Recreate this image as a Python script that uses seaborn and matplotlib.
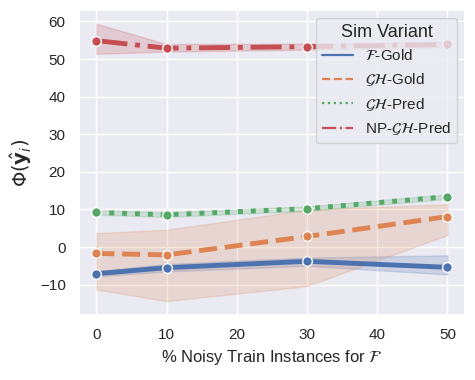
import pandas as pd
import matplotlib.pyplot as plt
from matplotlib.lines import Line2D
import seaborn as sns

# --- DATA ---
NOISE_PCT = [0, 10, 30, 50]
VARIANTS = [r"$\mathcal{F}$-Gold", r"$\mathcal{GH}$-Gold", r"$\mathcal{GH}$-Pred", r"NP-$\mathcal{GH}$-Pred"]

F_GOLD = [-7.1, -5.5, -3.8, -5.4]
F_GOLD_LO = [-7.8, -6.5, -5.0, -7.3]
F_GOLD_HI = [-6.4, -4.5, -2.8, -2.2]

GH_GOLD = [-1.7, -2.1, 2.8, 8.1]
GH_GOLD_LO = [-11.3, -14.4, -10.4, 3.2]
GH_GOLD_HI = [3.7, 4.6, 9.9, 11.4]

GH_PRED = [9.2, 8.6, 10.2, 13.4]
GH_PRED_LO = [8.6, 8.0, 9.6, 12.8]
GH_PRED_HI = [9.8, 9.2, 10.8, 14.0]

NP_GH_PRED = [54.9, 52.9, 53.3, 53.9]
NP_GH_PRED_LO = [51.4, 52.0, 52.5, 53.2]
NP_GH_PRED_HI = [59.4, 54.0, 54.1, 54.6]
# -------------------------------------

means = [F_GOLD, GH_GOLD, GH_PRED, NP_GH_PRED]
lows = [F_GOLD_LO, GH_GOLD_LO, GH_PRED_LO, NP_GH_PRED_LO]
highs = [F_GOLD_HI, GH_GOLD_HI, GH_PRED_HI, NP_GH_PRED_HI]

rows = []
for name, m, lo, hi in zip(VARIANTS, means, lows, highs):
    for x, v, a, b in zip(NOISE_PCT, m, lo, hi):
        rows.append({"noise": x, "score": v, "lo": a, "hi": b, "Sim Variant": name})
df = pd.DataFrame(rows)

sns.set_theme(style="darkgrid")
plt.rcParams['font.family'] = ['Liberation Sans', 'DejaVu Sans']
colors = sns.color_palette("deep", 4)
styles = ["-", "--", ":", "-."]

fig, ax = plt.subplots(figsize=(4.75, 3.8), dpi=100)

for name, col, ls in zip(VARIANTS, colors, styles):
    sub = df[df["Sim Variant"] == name]
    ax.fill_between(sub["noise"], sub["lo"], sub["hi"], color=col, alpha=0.2)
    sns.lineplot(data=sub, x="noise", y="score", color=col, linestyle=ls,
                 linewidth=3.5, marker="o", markersize=7, markeredgecolor="white",
                 markeredgewidth=1, ax=ax, legend=False)

handles = [Line2D([0], [0], color=c, linestyle=ls, linewidth=1.6) for c, ls in zip(colors, styles)]
ax.legend(handles, VARIANTS, title="Sim Variant", loc="upper right", fontsize=11,
          title_fontsize=13)

ax.set_xlabel(r"% Noisy Train Instances for $\mathcal{F}$", fontsize=12)
ax.set_ylabel(r"$\Phi(\hat{\mathbf{y}}_i)$", fontsize=14)
ax.set_xticks([0, 10, 20, 30, 40, 50])

fig.subplots_adjust(left=0.166, right=0.979, top=0.974, bottom=0.171)
plt.savefig("out.png", dpi=100)
